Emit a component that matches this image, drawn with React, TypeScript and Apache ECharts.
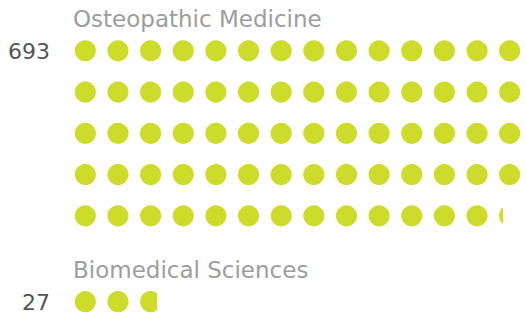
import React, { useEffect, useRef } from "react";
import * as echarts from "echarts";

// Data
const programs = ["Osteopathic Medicine", "Biomedical Sciences"];
const enrollment = [693, 27];
const unitsPerDot = 10;
const dotsPerRow = 14;

const DOT_COLOR = "#cddc2b";
const rowCapacity = unitsPerDot * dotsPerRow;

function splitRows(total: number): number[] {
  const rows: number[] = [];
  let rem = total;
  while (rem > 0) {
    rows.push(Math.min(rem, rowCapacity));
    rem -= rowCapacity;
  }
  return rows;
}

export default function App() {
  const ref = useRef<HTMLDivElement>(null);
  useEffect(() => {
    if (!ref.current) return;
    const chart = echarts.init(ref.current, null, { renderer: "svg" });
    const rowsPer = enrollment.map(splitRows);

    const gridLayout = [
      { top: 30.2, height: 206.25 },
      { top: 291, height: 21.4 },
    ];
    const titleY = [18.5, 269.5];
    const numberY = [51, 302];

    const grids: any[] = [];
    const xAxes: any[] = [];
    const yAxes: any[] = [];
    const series: any[] = [];
    const graphics: any[] = [];

    programs.forEach((name, gi) => {
      const rows = rowsPer[gi];
      grids.push({
        left: 69,
        width: 462,
        top: gridLayout[gi].top,
        height: gridLayout[gi].height,
      });
      xAxes.push({
        gridIndex: gi,
        type: "value",
        min: 0,
        max: rowCapacity,
        show: false,
      });
      yAxes.push({
        gridIndex: gi,
        type: "category",
        inverse: true,
        data: rows.map((_, i) => `${name} ${i + 1}`),
        show: false,
      });
      series.push({
        type: "pictorialBar",
        xAxisIndex: gi,
        yAxisIndex: gi,
        symbol: "circle",
        symbolSize: [21, 21],
        symbolRepeat: true,
        symbolMargin: "6!",
        symbolBoundingData: rowCapacity,
        symbolClip: true,
        symbolPosition: "start",
        itemStyle: { color: DOT_COLOR },
        data: rows,
        silent: true,
      });
      graphics.push({
        type: "text",
        x: 73,
        y: titleY[gi],
        style: {
          text: name,
          font: '23px "DejaVu Sans"',
          fill: "#9d9d9d",
          textAlign: "left",
          textVerticalAlign: "middle",
        },
      });
      graphics.push({
        type: "text",
        x: 50,
        y: numberY[gi],
        style: {
          text: String(enrollment[gi]),
          font: '22px "DejaVu Sans"',
          fill: "#555555",
          textAlign: "right",
          textVerticalAlign: "middle",
        },
      });
    });

    chart.setOption({
      animation: false,
      backgroundColor: "#ffffff",
      grid: grids,
      xAxis: xAxes,
      yAxis: yAxes,
      series,
      graphic: graphics,
    });
    return () => chart.dispose();
  }, []);
  return (
    <div
      ref={ref}
      style={{ position: "absolute", left: 0, top: 0, width: 526, height: 317 }}
    />
  );
}
